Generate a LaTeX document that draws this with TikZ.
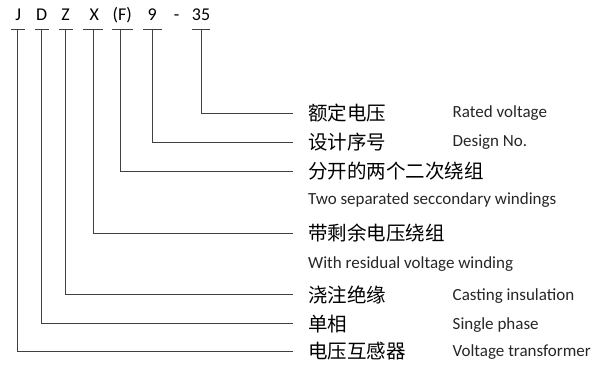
\documentclass[tikz,border=0pt]{standalone}
\usepackage{fontspec}
\setmainfont{Carlito}
\newfontfamily\cjk{Noto Sans CJK SC}
\begin{document}
\begin{tikzpicture}[x=1pt,y=-1pt,
  ln/.style={draw=black!75,line width=0.9pt},
  code/.style={font=\fontsize{18}{20}\selectfont,inner sep=0pt,anchor=base},
  zh/.style={font=\cjk\fontsize{19.5}{22}\selectfont,inner sep=0pt,anchor=west},
  en/.style={font=\fontsize{17}{19}\selectfont,inner sep=0pt,anchor=west,text=black!85}]
\useasboundingbox (0,0) rectangle (600,367);
% code letters
\node[code] (J) at (18.3,20.5) {J};
\node[code] (D) at (41.7,20.5) {D};
\node[code] (Z) at (65.7,20.5) {Z};
\node[code] (X) at (94.3,20.5) {X};
\node[code] (F) at (122.3,20.5) {(F)};
\node[code] (N) at (152.3,20.5) {9};
\node[code] (M) at (176.7,20.5) {-};
\node[code] (T) at (201,20.5) {35};
% bar tops
\coordinate (jt) at (17.7,29.3);
\coordinate (dt) at (41.7,29.3);
\coordinate (zt) at (65.7,29.3);
\coordinate (xt) at (93.3,29.3);
\coordinate (ft) at (120.7,29.3);
\coordinate (nt) at (152.3,29.3);
\coordinate (tt) at (201,29.3);
% chinese labels
\node[zh] (cT) at (308,113.3) {额定电压};
\node[zh] (cN) at (308,142.3) {设计序号};
\node[zh] (cF) at (308,171) {分开的两个二次绕组};
\node[zh] (cX) at (308,233.3) {带剩余电压绕组};
\node[zh] (cZ) at (308,294.5) {浇注绝缘};
\node[zh] (cD) at (308,323.7) {单相};
\node[zh] (cJ) at (308,351) {电压互感器};
% english labels
\node[en] (eT) at (452.5,113) {Rated voltage};
\node[en] (eN) at (452.5,142.5) {Design No.};
\node[en] (eF) at (308,200) {Two separated seccondary windings};
\node[en] (eX) at (308,264) {With residual voltage winding};
\node[en] (eZ) at (452.5,296) {Casting insulation};
\node[en] (eD) at (452.5,325) {Single phase};
\node[en] (eJ) at (452.5,352) {Voltage transformer};
% bars
\draw[ln] (11,29.3) -- (25,29.3);
\draw[ln] (35,29.3) -- (49,29.3);
\draw[ln] (59,29.3) -- (73,29.3);
\draw[ln] (83,29.3) -- (103,29.3);
\draw[ln] (112,29.3) -- (133,29.3);
\draw[ln] (143,29.3) -- (162,29.3);
\draw[ln] (192,29.3) -- (210,29.3);
% connectors
\draw[ln] (tt) |- ([xshift=-15pt]cT.west);
\draw[ln] (nt) |- ([xshift=-15pt]cN.west);
\draw[ln] (ft) |- ([xshift=-15pt]cF.west);
\draw[ln] (xt) |- ([xshift=-15pt]cX.west);
\draw[ln] (zt) |- ([xshift=-15pt]cZ.west);
\draw[ln] (dt) |- ([xshift=-15pt]cD.west);
\draw[ln] (jt) |- ([xshift=-15pt]cJ.west);
\end{tikzpicture}
\end{document}
